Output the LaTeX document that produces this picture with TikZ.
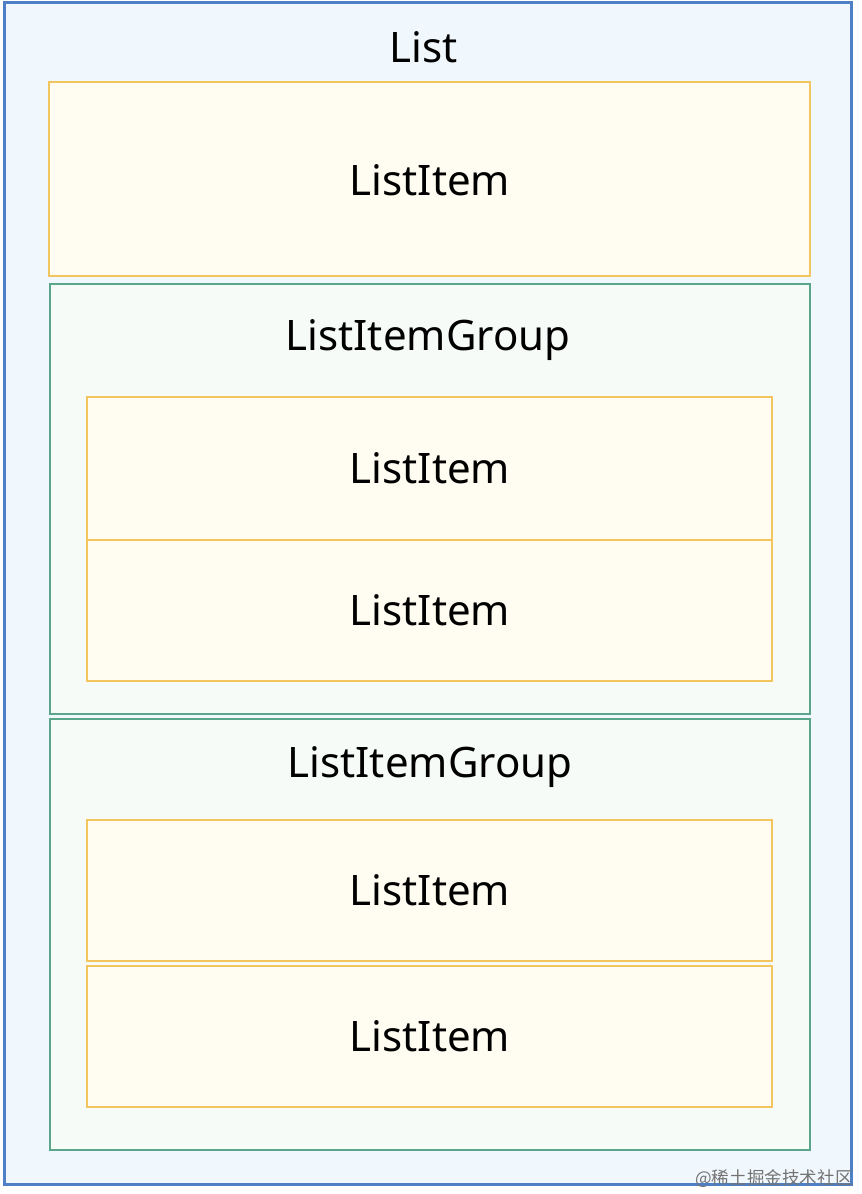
\documentclass[tikz,border=0pt]{standalone}
\usepackage{fontspec}
\setmainfont{Noto Sans}
\newfontfamily\cjk{Noto Sans CJK SC}
\definecolor{listblue}{HTML}{4F80C6}
\definecolor{listfill}{HTML}{F1F8FD}
\definecolor{itemyellow}{HTML}{F3C55E}
\definecolor{itemfill}{HTML}{FFFCF1}
\definecolor{groupgreen}{HTML}{5BA68B}
\definecolor{groupfill}{HTML}{F7FBF8}
\tikzset{
  listbox/.style={draw=listblue, fill=listfill, line width=1.5pt},
  itembox/.style={draw=itemyellow, fill=itemfill, line width=1.1pt},
  groupbox/.style={draw=groupgreen, fill=groupfill, line width=1.1pt},
  lbl/.style={font=\fontsize{21pt}{25pt}\selectfont, text=black, inner sep=0pt},
}
\begin{document}
\begin{tikzpicture}[x=0.5pt,y=-0.5pt]
\useasboundingbox (0,0) rectangle (862,1194);
\fill[white] (0,0) rectangle (862,1194);
% outer List
\draw[listbox] (4,2) rectangle (851,1184);
\node[lbl] (list) at (424,47) {List};
% top ListItem
\draw[itembox] (49,82) rectangle (810,276);
\node[lbl] (item0) at (430,180) {ListItem};
% group 1
\draw[groupbox] (50,284) rectangle (810,714);
\node[lbl] (group1) at (428,340) {ListItemGroup};
\draw[itembox] (87,397) rectangle (772,540);
\node[lbl] (item1) at (430,468) {ListItem};
\draw[itembox] (87,540) rectangle (772,681);
\node[lbl] (item2) at (430,610) {ListItem};
% group 2
\draw[groupbox] (50,719) rectangle (810,1150);
\node[lbl] (group2) at (430,767) {ListItemGroup};
\draw[itembox] (87,820) rectangle (772,961);
\node[lbl] (item3) at (430,890) {ListItem};
\draw[itembox] (87,966) rectangle (772,1107);
\node[lbl] (item4) at (430,1036) {ListItem};
% watermark
\node[anchor=south east, inner sep=0pt, text=black!55, font=\cjk\fontsize{8.8pt}{10pt}\selectfont] (wm) at (853,1188) {@稀土掘金技术社区};
\end{tikzpicture}
\end{document}
